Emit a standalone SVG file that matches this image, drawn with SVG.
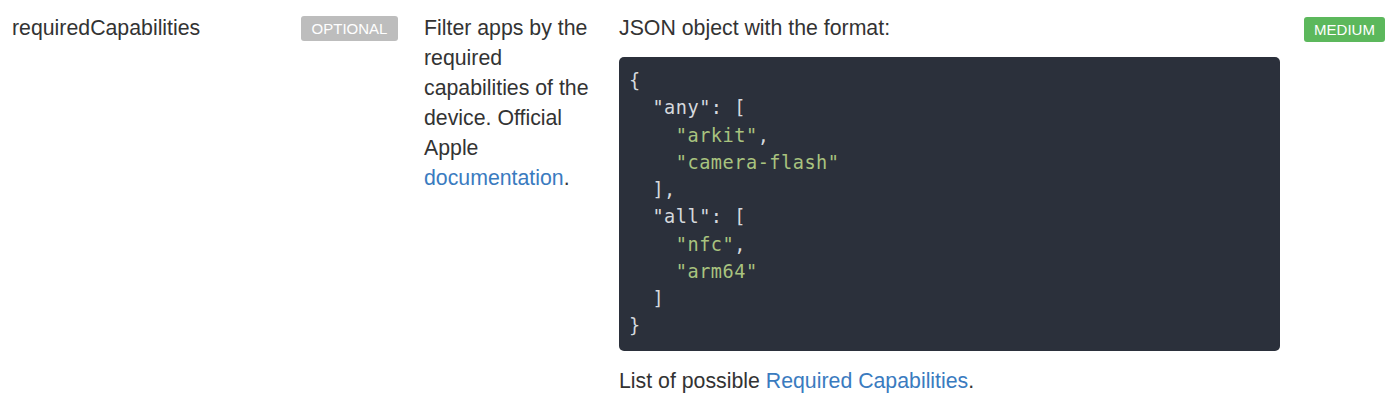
<svg xmlns="http://www.w3.org/2000/svg" width="1400" height="411" viewBox="0 0 1400 411">
<style>
.t{font-family:"Liberation Sans",Arial,sans-serif;font-size:21.3px;fill:#333}
.l{fill:#3a7bbf}
.b{font-family:"Liberation Sans",Arial,sans-serif;font-size:15px;fill:#fff}
.c{font-family:"DejaVu Sans Mono",monospace;font-size:18.6px;fill:#d6d9de;letter-spacing:0.5px}
.s{fill:#a9c37f}
</style>
<rect width="1400" height="411" fill="#fff"/>
<g id="name"><text class="t" x="12" y="35">requiredCapabilities</text></g>
<g id="optional"><rect x="301" y="16" width="97" height="25" rx="3" fill="#bdbdbd"/><text class="b" x="349.5" y="34" text-anchor="middle">OPTIONAL</text></g>
<g id="desc">
<text class="t" x="424" y="35">Filter apps by the</text>
<text class="t" x="424" y="65">required</text>
<text class="t" x="424" y="95">capabilities of the</text>
<text class="t" x="424" y="125">device. Official</text>
<text class="t" x="424" y="155">Apple</text>
<text class="t" x="424" y="185"><tspan class="l">documentation</tspan>.</text>
</g>
<g id="format">
<text class="t" x="619" y="35">JSON object with the format:</text>
<rect x="619" y="57" width="661" height="294" rx="5" fill="#2b303b"/>
<text class="c" x="629" y="87">{</text>
<text class="c" x="629" y="114" xml:space="preserve">  "any": [</text>
<text class="c" x="629" y="142" xml:space="preserve">    <tspan class="s">"arkit"</tspan>,</text>
<text class="c" x="629" y="169" xml:space="preserve">    <tspan class="s">"camera-flash"</tspan></text>
<text class="c" x="629" y="196" xml:space="preserve">  ],</text>
<text class="c" x="629" y="223" xml:space="preserve">  "all": [</text>
<text class="c" x="629" y="251" xml:space="preserve">    <tspan class="s">"nfc"</tspan>,</text>
<text class="c" x="629" y="278" xml:space="preserve">    <tspan class="s">"arm64"</tspan></text>
<text class="c" x="629" y="305" xml:space="preserve">  ]</text>
<text class="c" x="629" y="332">}</text>
<text class="t" x="619" y="388">List of possible <tspan class="l">Required Capabilities</tspan>.</text>
</g>
<g id="medium"><rect x="1304" y="17" width="81" height="25" rx="3" fill="#5cb85c"/><text class="b" x="1344.5" y="35" text-anchor="middle">MEDIUM</text></g>
</svg>
